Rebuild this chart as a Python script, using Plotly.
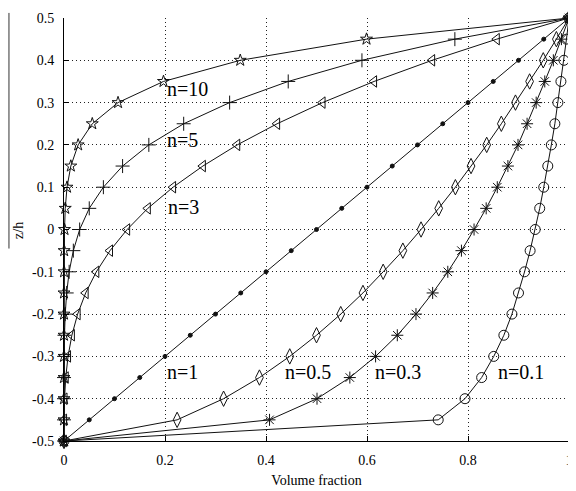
import plotly.graph_objects as go

z_h = [-0.5, -0.45, -0.4, -0.35, -0.3, -0.25, -0.2, -0.15, -0.1, -0.05, 0.0,
       0.05, 0.1, 0.15, 0.2, 0.25, 0.3, 0.35, 0.4, 0.45, 0.5]

v_n10 = [0, 0, 0, 0, 0, 0, 0, 0, 0.0001, 0.0003, 0.001, 0.0025, 0.006, 0.0135,
         0.028, 0.056, 0.107, 0.197, 0.349, 0.599, 1.0]
v_n5 = [0, 0, 0.00001, 0.00008, 0.0003, 0.001, 0.0024, 0.0053, 0.0102, 0.0185,
        0.031, 0.050, 0.078, 0.116, 0.168, 0.237, 0.328, 0.444, 0.590, 0.774, 1.0]
v_n3 = [0, 0.0001, 0.001, 0.0034, 0.008, 0.0156, 0.027, 0.0429, 0.064, 0.0911,
        0.125, 0.166, 0.216, 0.275, 0.343, 0.422, 0.512, 0.614, 0.729, 0.857, 1.0]
v_n1 = [0, 0.05, 0.1, 0.15, 0.2, 0.25, 0.3, 0.35, 0.4, 0.45, 0.5,
        0.55, 0.6, 0.65, 0.7, 0.75, 0.8, 0.85, 0.9, 0.95, 1.0]
v_n05 = [0, 0.224, 0.316, 0.387, 0.447, 0.5, 0.548, 0.592, 0.632, 0.671, 0.707,
         0.742, 0.775, 0.806, 0.837, 0.866, 0.894, 0.922, 0.949, 0.975, 1.0]
v_n03 = [0, 0.407, 0.501, 0.566, 0.617, 0.660, 0.697, 0.730, 0.760, 0.787, 0.812,
         0.836, 0.858, 0.879, 0.899, 0.917, 0.935, 0.952, 0.969, 0.985, 1.0]
v_n01 = [0, 0.741, 0.794, 0.827, 0.851, 0.871, 0.887, 0.900, 0.912, 0.923, 0.933,
         0.942, 0.950, 0.958, 0.965, 0.972, 0.978, 0.984, 0.990, 0.995, 1.0]

x_ticks = [0, 0.2, 0.4, 0.6, 0.8, 1]
x_tick_text = ["0", "0.2", "0.4", "0.6", "0.8", "1"]
y_ticks = [-0.5, -0.4, -0.3, -0.2, -0.1, 0, 0.1, 0.2, 0.3, 0.4, 0.5]
y_tick_text = ["-0.5", "-0.4", "-0.3", "-0.2", "-0.1", "0", "0.1", "0.2", "0.3", "0.4", "0.5"]

labels = ["n=10", "n=5", "n=3", "n=1", "n=0.5", "n=0.3", "n=0.1"]
label_x = [0.199, 0.199, 0.201, 0.199, 0.434, 0.611, 0.856]
label_y = [0.333, 0.211, 0.054, -0.338, -0.336, -0.336, -0.336]

FONT = "Liberation Serif"

series = [
    (v_n10, "star-open", 9),
    (v_n5, "cross-thin-open", 10),
    (v_n3, "triangle-left-open", 10),
    (v_n1, "circle", 4),
    (v_n05, "diamond-tall-open", 11),
    (v_n03, "asterisk-open", 10),
    (v_n01, "circle-open", 10),
]

fig = go.Figure()
for vals, sym, size in series:
    fig.add_trace(go.Scatter(
        x=vals, y=z_h, mode="lines+markers",
        line=dict(color="#111111", width=1),
        marker=dict(symbol=sym, size=size, color="#111111",
                    line=dict(color="#111111", width=1)),
        cliponaxis=False, showlegend=False,
    ))

for txt, lx, ly in zip(labels, label_x, label_y):
    fig.add_annotation(x=lx, y=ly, text=txt, showarrow=False, xanchor="left",
                       yanchor="middle", font=dict(family=FONT, size=20, color="black"))

# y-axis title with overline (rendered rotated)
fig.add_annotation(xref="paper", yref="paper", x=-0.090, y=0.498, text="z/h",
                   textangle=-90, showarrow=False, xanchor="center", yanchor="middle",
                   font=dict(family=FONT, size=14, color="black"))
fig.add_shape(type="line", xref="paper", yref="paper", x0=-0.109, x1=-0.109,
              y0=0.455, y1=1.012, line=dict(color="#333333", width=1))

axis_common = dict(
    showline=True, linecolor="black", linewidth=1, mirror=False,
    ticks="inside", ticklen=5, tickcolor="black",
    showgrid=True, gridcolor="#222222", gridwidth=1, griddash="1px,3px",
    zeroline=False, tickfont=dict(family=FONT, size=14, color="black"),
    ticklabeloverflow="allow",
)

fig.update_xaxes(range=[0, 1], tickvals=x_ticks, ticktext=x_tick_text,
                 ticklabelstandoff=6,
                 title=dict(text="Volume fraction", font=dict(family=FONT, size=14, color="black"),
                            standoff=8),
                 **axis_common)
fig.update_yaxes(range=[-0.5, 0.5], tickvals=y_ticks, ticktext=y_tick_text,
                 ticklabelstandoff=6, **axis_common)

# page body has an 8px margin, so the figure is sized to fill the rest of the window
fig.update_layout(
    width=568, height=483,
    font=dict(family=FONT, color="black"),
    margin=dict(l=56, r=3, t=7, b=50),
    plot_bgcolor="white", paper_bgcolor="white",
)

fig.write_html("out.html")
